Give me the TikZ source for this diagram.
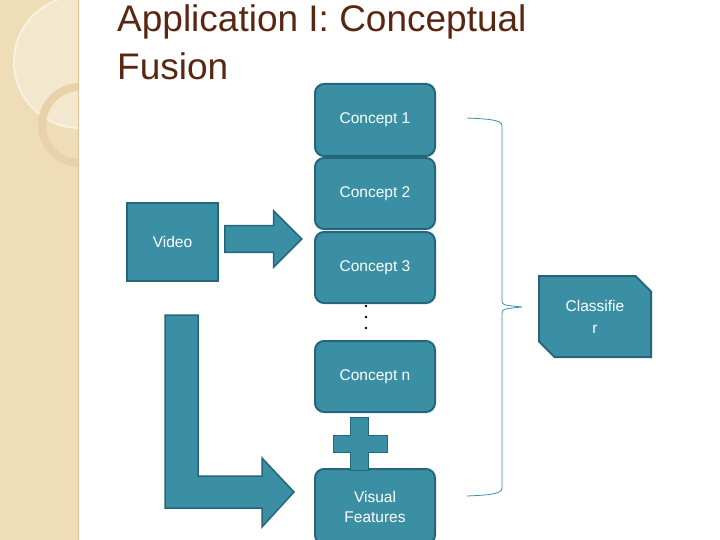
\documentclass[tikz,border=0pt]{standalone}
\usepackage{fontspec}
\setmainfont{Liberation Sans}
\usetikzlibrary{shapes.arrows,shapes.misc}
\definecolor{azul}{HTML}{3A8FA5}
\definecolor{borde}{HTML}{25667A}
\definecolor{cafe}{HTML}{5A2612}
\definecolor{beige}{HTML}{EFDDB8}
\begin{document}
\begin{tikzpicture}[x=1pt,y=-1pt]
\tikzstyle{concepto}=[draw=borde,line width=2pt,fill=azul,rounded corners=9pt,minimum width=120pt,minimum height=70pt,text=white,font=\fontsize{15.5}{20}\selectfont,align=center,anchor=north west,inner sep=0pt]
\tikzstyle{flecha}=[draw=borde,line width=1.5pt,fill=azul]
\useasboundingbox (0,0) rectangle (720,540);
% franja izquierda
\fill[beige] (0,0) rectangle (78,540);
\begin{scope}
\clip (0,0) rectangle (78,540);
\fill[white,opacity=0.3] (80,62) circle (66);
\draw[white!60!beige,line width=2pt] (80,62) circle (66);
\draw[beige!88!brown,line width=8pt] (80,125) circle (38);
\end{scope}
\draw[beige!70!brown,line width=1pt] (78,0) -- (78,540);
% titulo
\node[text=cafe,font=\fontsize{37}{48}\selectfont,anchor=north west,align=left,inner sep=0pt] (titulo) at (117,4) {Application I: Conceptual\\Fusion};
% conceptos
\node[concepto,minimum height=72pt] (c1) at (314,83) {Concept 1};
\node[concepto,minimum height=71pt] (c2) at (314,157) {Concept 2};
\node[concepto,minimum height=71pt] (c3) at (314,231) {Concept 3};
\node[concepto,minimum height=71pt] (cn) at (314,340) {Concept n};
\node[concepto,minimum height=75pt] (vf) at (314,468) {Visual\\Features};
\node[draw=borde,line width=2pt,fill=azul,text=white,minimum width=91pt,minimum height=78pt,anchor=north west,font=\fontsize{15.5}{20}\selectfont] (video) at (126,202) {Video};
\coordinate (puntos) at (366,317);
\foreach \d in {-11,0,11} \fill (366,317+\d) circle (1.3pt);
% flechas
\node[flecha,single arrow,minimum width=55pt,minimum height=77pt,single arrow head extend=15pt,inner xsep=0pt,inner ysep=12.5pt,anchor=west] (f1) at (224,239) {};
\draw[flecha] (165,315) -- (198,315) -- (198,476) -- (262,476) -- (262,458) -- (294,492)
  -- (262,527) -- (262,508) -- (165,508) -- cycle;
% suma
\draw[flecha,line width=1pt] (350,417) -- (368,417) -- (368,435) -- (387,435) -- (387,452) -- (368,452)
  -- (368,470) -- (350,470) -- (350,452) -- (333,452) -- (333,435) -- (350,435) -- cycle;
% llave
\draw[azul,line width=0.8pt] (467,118) .. controls (490,119) and (502,120) .. (502,126)
  -- (502,300) .. controls (502,305) .. (522,307) .. controls (502,309) .. (502,314)
  -- (502,488) .. controls (502,494) and (490,495) .. (467,496);
\node[draw=borde,line width=2pt,fill=azul,text=white,chamfered rectangle,chamfered rectangle corners={north east,south west},chamfered rectangle xsep=12pt,minimum width=112pt,minimum height=81pt,anchor=north west,align=center,font=\fontsize{15.5}{22}\selectfont,inner sep=0pt] (clasif) at (538,275) {Classifie\\r};
\end{tikzpicture}
\end{document}
